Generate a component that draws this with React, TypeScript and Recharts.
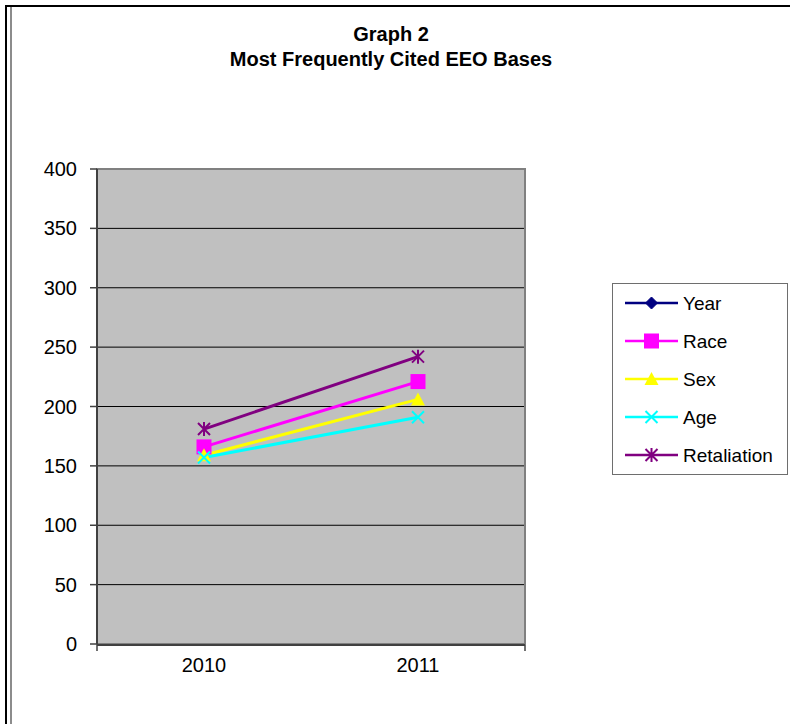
import React from 'react';
import {
  LineChart,
  Line,
  XAxis,
  YAxis,
  CartesianGrid,
  Legend,
  ReferenceArea,
} from 'recharts';

const categories = ['2010', '2011'];
const yearValues = [2010, 2011];
const raceValues = [166, 221];
const sexValues = [159, 206];
const ageValues = [157, 191];
const retaliationValues = [181, 242];
const yTicks = [0, 50, 100, 150, 200, 250, 300, 350, 400];
const edgeTicks = [0, 1, 2];

const data = categories.map((c, i) => ({
  cat: c,
  Year: yearValues[i],
  Race: raceValues[i],
  Sex: sexValues[i],
  Age: ageValues[i],
  Retaliation: retaliationValues[i],
}));

const FONT = 'Arial, "Liberation Sans", sans-serif';

type Kind = 'diamond' | 'square' | 'triangle' | 'x' | 'asterisk';

const seriesDefs: { key: string; color: string; kind: Kind }[] = [
  { key: 'Year', color: '#000080', kind: 'diamond' },
  { key: 'Race', color: '#FF00FF', kind: 'square' },
  { key: 'Sex', color: '#FFFF00', kind: 'triangle' },
  { key: 'Age', color: '#00FFFF', kind: 'x' },
  { key: 'Retaliation', color: '#800080', kind: 'asterisk' },
];

function marker(kind: Kind, cx: number, cy: number, color: string, k: string) {
  switch (kind) {
    case 'diamond':
      return (
        <path key={k} d={`M${cx},${cy - 6}L${cx + 6},${cy}L${cx},${cy + 6}L${cx - 6},${cy}Z`} fill={color} stroke={color} />
      );
    case 'square':
      return <rect key={k} x={cx - 7.5} y={cy - 7.5} width={15} height={15} fill={color} />;
    case 'triangle':
      return (
        <path key={k} d={`M${cx},${cy - 7}L${cx + 7},${cy + 6}L${cx - 7},${cy + 6}Z`} fill={color} />
      );
    case 'x':
      return (
        <path key={k} d={`M${cx - 6},${cy - 6}L${cx + 6},${cy + 6}M${cx - 6},${cy + 6}L${cx + 6},${cy - 6}`} stroke={color} strokeWidth={2} fill="none" />
      );
    case 'asterisk':
      return (
        <path
          key={k}
          d={`M${cx - 6},${cy - 6}L${cx + 6},${cy + 6}M${cx - 6},${cy + 6}L${cx + 6},${cy - 6}M${cx},${cy - 7}L${cx},${cy + 7}`}
          stroke={color}
          strokeWidth={2}
          fill="none"
        />
      );
  }
  return null;
}

const makeDot = (kind: Kind, color: string) => (props: any) => {
  const { cx, cy, index } = props;
  if (cx == null || cy == null) return <g key={`d-${index}`} />;
  return marker(kind, cx, cy, color, `d-${kind}-${index}`);
};

const EmptyTick = () => <g />;

const LegendContent = () => (
  <div
    style={{
      width: 176,
      height: 192,
      boxSizing: 'border-box',
      border: '1.5px solid #6e6e6e',
      background: '#fff',
      position: 'relative',
    }}
  >
    <svg width={174} height={190} style={{ position: 'absolute', left: 0, top: 0 }}>
      {seriesDefs.map((s, i) => {
        const y = 19 + i * 38;
        return (
          <g key={s.key}>
            <line x1={12} x2={65} y1={y} y2={y} stroke={s.color} strokeWidth={2.5} />
            {marker(s.kind, 38.5, y, s.color, `lm-${i}`)}
            <text x={70} y={y} dy="0.355em" fontFamily={FONT} fontSize={19} fill="#000">
              {s.key}
            </text>
          </g>
        );
      })}
    </svg>
  </div>
);

export default function App() {
  return (
    <div
      style={{
        position: 'absolute',
        left: 0,
        top: 0,
        width: 790,
        height: 724,
        background: '#fff',
        overflow: 'hidden',
      }}
    >
      <div style={{ position: 'absolute', left: 5, top: 5, width: 785, height: 2, background: '#000' }} />
      <div style={{ position: 'absolute', left: 5, top: 5, width: 2, height: 719, background: '#000' }} />
      <div style={{ position: 'absolute', left: 10, top: 7, width: 2, height: 717, background: '#8c8c8c' }} />
      <div
        style={{
          position: 'absolute',
          left: 0,
          top: 22,
          width: 782,
          textAlign: 'center',
          fontFamily: FONT,
          fontWeight: 'bold',
          fontSize: 20,
          lineHeight: '25px',
          color: '#000',
          zIndex: 2,
        }}
      >
        <div>Graph 2</div>
        <div>Most Frequently Cited EEO Bases</div>
      </div>
      <div style={{ position: 'absolute', left: 0, top: 0 }}>
        <LineChart
          width={790}
          height={724}
          data={data}
          margin={{ top: 169, right: 265, bottom: 51, left: 37 }}
        >
          <CartesianGrid vertical={false} stroke="#000" strokeWidth={1} fill="#C0C0C0" fillOpacity={1} />
          <ReferenceArea y1={0} y2={400} fill="none" stroke="#808080" strokeWidth={2} ifOverflow="visible" />
          <XAxis
            xAxisId="edges"
            type="number"
            domain={[0, 2]}
            ticks={edgeTicks}
            height={28}
            tick={EmptyTick}
            tickSize={6}
            axisLine={{ stroke: '#404040', strokeWidth: 2 }}
            tickLine={{ stroke: '#404040', strokeWidth: 1.5 }}
          />
          <XAxis
            dataKey="cat"
            type="category"
            scale="band"
            height={1}
            axisLine={false}
            tickLine={false}
            tickSize={6}
            tickMargin={8}
            tick={{ fontFamily: FONT, fontSize: 20, fill: '#000' }}
          />
          <YAxis
            type="number"
            domain={[0, 400]}
            ticks={yTicks}
            allowDataOverflow
            width={60}
            tickSize={7}
            tickMargin={13}
            axisLine={{ stroke: '#404040', strokeWidth: 2 }}
            tickLine={{ stroke: '#404040', strokeWidth: 1.5 }}
            tick={{ fontFamily: FONT, fontSize: 20, fill: '#000' }}
          />
          {seriesDefs.map((s) => (
            <Line
              key={s.key}
              dataKey={s.key}
              stroke={s.color}
              strokeWidth={3}
              dot={makeDot(s.kind, s.color)}
              activeDot={false}
              isAnimationActive={false}
            />
          ))}
          <Legend
            layout="vertical"
            align="center"
            verticalAlign="middle"
            content={() => <LegendContent />}
            wrapperStyle={{ left: 612, top: 283, width: 176, height: 192 }}
          />
        </LineChart>
      </div>
    </div>
  );
}
